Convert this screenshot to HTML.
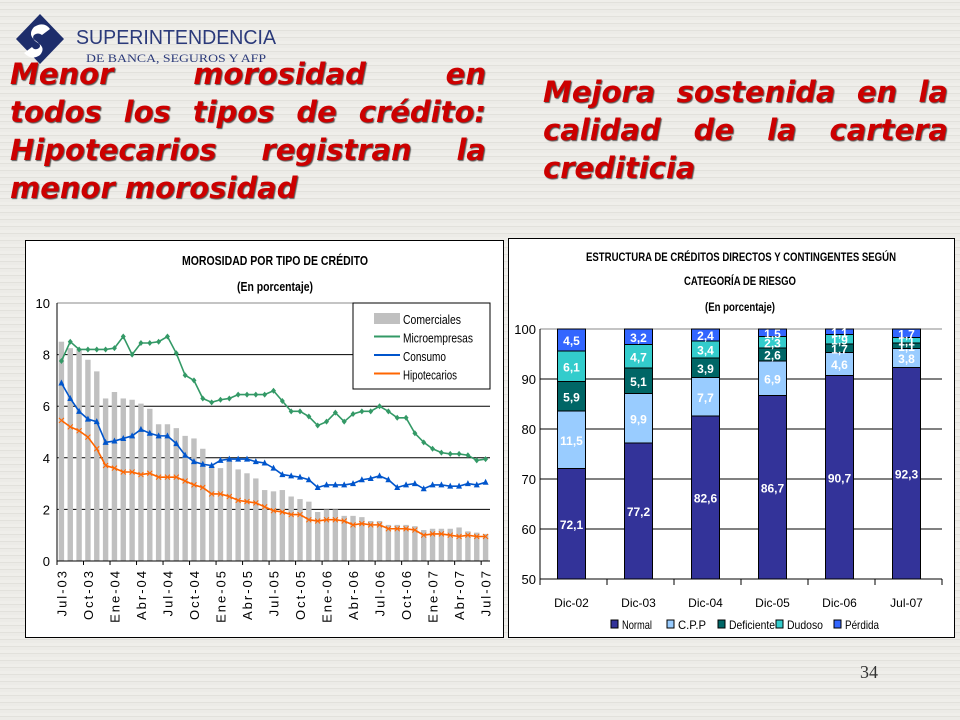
<!DOCTYPE html>
<html><head><meta charset="utf-8"><style>
body{margin:0;width:960px;height:720px;overflow:hidden;background:#e9e8e4;font-family:"Liberation Sans",sans-serif;position:relative}
.bgtex{position:absolute;inset:0;background:repeating-linear-gradient(0deg,#ecebe7 0 3px,#e2e1dc 3px 4px,#efeeea 4px 7px);}
.t{position:absolute;font-family:"DejaVu Sans",sans-serif;font-weight:bold;font-style:italic;color:#cc0000;font-size:29px;line-height:38px;text-shadow:1px 1px 1px #555}
.t div{text-align:justify;text-align-last:justify;white-space:nowrap}
.t div.last{text-align-last:left}
</style></head><body>
<div class="bgtex"></div>
<div style="position:absolute;left:14px;top:12px;width:270px;height:55px">
<svg width="270" height="55"><polygon points="26,2 50,27 26,52 2,27" fill="#1d2d6b"/><path d="M20,15 q10,-6 16,2 l-8,6 q-4,-3 -8,0 q-3,4 4,8 q8,5 2,12 q-8,6 -16,-2 l8,-6 q3,4 7,1 q3,-3 -3,-7 q-9,-6 -2,-14z" fill="#fff"/>
<text x="62" y="32" font-family="Liberation Sans" font-size="20" fill="#2b3a7a" textLength="200" lengthAdjust="spacingAndGlyphs">SUPERINTENDENCIA</text>
<text x="72" y="50" font-family="Liberation Serif" font-size="12" fill="#2b3a7a" textLength="180" lengthAdjust="spacingAndGlyphs">DE BANCA, SEGUROS Y AFP</text></svg></div>
<div class="t" style="left:10px;top:55px;width:476px">
<div>Menor morosidad en</div><div>todos los tipos de crédito:</div><div>Hipotecarios registran la</div><div class="last">menor morosidad</div></div>
<div class="t" style="left:543px;top:73px;width:405px">
<div>Mejora sostenida en la</div><div>calidad de la cartera</div><div class="last">crediticia</div></div>
<div style="position:absolute;left:860px;top:662px;font-family:'Liberation Serif';font-size:18px;color:#333">34</div>

<svg id="c1" style="position:absolute;left:25px;top:240px" width="480" height="400"></svg>
<svg id="c2" style="position:absolute;left:508px;top:238px" width="450" height="400"></svg>
<script>
const months=["Jul-03","Ago-03","Sep-03","Oct-03","Nov-03","Dic-03","Ene-04","Feb-04","Mar-04","Abr-04","May-04","Jun-04","Jul-04","Ago-04","Sep-04","Oct-04","Nov-04","Dic-04","Ene-05","Feb-05","Mar-05","Abr-05","May-05","Jun-05","Jul-05","Ago-05","Sep-05","Oct-05","Nov-05","Dic-05","Ene-06","Feb-06","Mar-06","Abr-06","May-06","Jun-06","Jul-06","Ago-06","Sep-06","Oct-06","Nov-06","Dic-06","Ene-07","Feb-07","Mar-07","Abr-07","May-07","Jun-07","Jul-07"];
const comerciales=[8.5,8.25,8.2,7.8,7.35,6.3,6.55,6.3,6.25,6.1,5.9,5.3,5.3,5.15,4.85,4.75,4.35,3.7,3.6,3.9,3.55,3.4,3.2,2.75,2.7,2.75,2.5,2.4,2.3,1.9,2.0,2.0,1.75,1.75,1.7,1.55,1.55,1.4,1.4,1.4,1.35,1.2,1.25,1.25,1.25,1.3,1.15,1.1,1.05];
const microempresas=[7.75,8.5,8.2,8.2,8.2,8.2,8.25,8.7,8.0,8.45,8.45,8.5,8.7,8.05,7.2,7.0,6.3,6.15,6.25,6.3,6.45,6.45,6.45,6.45,6.6,6.2,5.8,5.8,5.6,5.25,5.4,5.75,5.4,5.7,5.8,5.8,6.0,5.8,5.55,5.55,4.95,4.6,4.35,4.2,4.15,4.15,4.1,3.9,3.95];
const consumo=[6.9,6.3,5.8,5.5,5.4,4.6,4.65,4.75,4.85,5.1,4.95,4.85,4.85,4.55,4.1,3.85,3.75,3.7,3.9,3.95,3.95,3.95,3.85,3.8,3.6,3.35,3.3,3.25,3.15,2.85,2.95,2.95,2.95,3.0,3.15,3.2,3.3,3.15,2.85,2.95,3.0,2.8,2.95,2.95,2.9,2.9,3.0,2.95,3.05];
const hipotecarios=[5.45,5.2,5.05,4.8,4.35,3.7,3.6,3.45,3.45,3.35,3.4,3.25,3.25,3.25,3.1,2.95,2.85,2.6,2.6,2.5,2.35,2.3,2.25,2.1,1.95,1.9,1.8,1.8,1.6,1.55,1.6,1.6,1.55,1.4,1.45,1.4,1.4,1.25,1.25,1.25,1.2,1.0,1.05,1.05,1.0,0.95,1.0,0.95,0.95];
const yTicks1=[0,2,4,6,8,10];

const periods=["Dic-02","Dic-03","Dic-04","Dic-05","Dic-06","Jul-07"];
const normal=[72.1,77.2,82.6,86.7,90.7,92.3];
const cpp=[11.5,9.9,7.7,6.9,4.6,3.8];
const deficiente=[5.9,5.1,3.9,2.6,1.7,1.1];
const dudoso=[6.1,4.7,3.4,2.3,1.9,1.1];
const perdida=[4.5,3.2,2.4,1.5,1.1,1.7];
const yTicks2=[50,60,70,80,90,100];

const NS="http://www.w3.org/2000/svg";
function mk(p,tag,a,txt){const e=document.createElementNS(NS,tag);for(const k in a)e.setAttribute(k,a[k]);if(txt!==undefined)e.textContent=txt;p.appendChild(e);return e;}
const fnt='"Liberation Sans",sans-serif';

// Chart 1
(function(){
const s=document.getElementById('c1');
mk(s,'rect',{x:0.5,y:0.5,width:478,height:397,fill:'#fff',stroke:'#000'});
let t=mk(s,'text',{x:157,y:25,'font-size':13,'font-weight':'bold','font-family':fnt,textLength:186,lengthAdjust:'spacingAndGlyphs'},'MOROSIDAD POR TIPO DE CRÉDITO');

mk(s,'text',{x:212,y:51,'font-size':13,'font-weight':'bold','font-family':fnt,textLength:76,lengthAdjust:'spacingAndGlyphs'},'(En porcentaje)');
const L=32,R=465,T=63,B=321,n=months.length,step=(R-L)/n;
const Y=v=>B-(v/10)*(B-T), X=i=>L+step*(i+0.5);
yTicks1.forEach(v=>{if(v>0){const g=mk(s,'line',{x1:L,x2:R,y1:Y(v),y2:Y(v),stroke:v==10?'#888':'#000','stroke-width':1});}
 const l=mk(s,'text',{x:L-7,y:Y(v)+5,'text-anchor':'end','font-size':13,'font-family':fnt},v);});
comerciales.forEach((v,i)=>{const b=mk(s,'rect',{x:X(i)-2.7,y:Y(v),width:5.4,height:B-Y(v),fill:'#c0c0c0'});});
mk(s,'line',{x1:L,x2:L,y1:T,y2:B,stroke:'#000'});mk(s,'line',{x1:L,x2:R,y1:B,y2:B,stroke:'#000'});
months.forEach((m,i)=>{ if(i%3==0){mk(s,'line',{x1:L+step*i,x2:L+step*i,y1:B,y2:B+4,stroke:'#000'});
 const tl=mk(s,'text',{x:0,y:0,'text-anchor':'end','font-size':13,'font-family':fnt,'letter-spacing':'2',transform:`translate(${X(i)+5},${B+8}) rotate(-90)`},m);}});
function series(d,c,name,mark){const pl=mk(s,'polyline',{points:d.map((v,i)=>X(i)+','+Y(v)).join(' '),fill:'none',stroke:c,'stroke-width':1.6});
 d.forEach((v,i)=>{const x=X(i),y=Y(v);let m;
  if(mark=='d')m=mk(s,'polygon',{points:`${x},${y-3} ${x+2.5},${y} ${x},${y+3} ${x-2.5},${y}`,fill:c});
  else if(mark=='t')m=mk(s,'polygon',{points:`${x},${y-3.5} ${x+3},${y+2.5} ${x-3},${y+2.5}`,fill:c});
  else m=mk(s,'path',{d:`M${x-2.5},${y-2.5}L${x+2.5},${y+2.5}M${x+2.5},${y-2.5}L${x-2.5},${y+2.5}`,stroke:c,'stroke-width':1});
  });}
series(microempresas,'#339966','microempresas','d');
series(consumo,'#0055cc','consumo','t');
series(hipotecarios,'#ff6600','hipotecarios','x');
const lg=mk(s,'g',{});
mk(lg,'rect',{x:328,y:63,width:137,height:86,fill:'#fff',stroke:'#000'});
mk(lg,'rect',{x:349,y:73,width:26,height:11,fill:'#c0c0c0'});
[['Comerciales',null,58],['Microempresas','#339966',70],['Consumo','#0055cc',43],['Hipotecarios','#ff6600',54]].forEach((e,i)=>{const y=82+i*18.5;
 if(e[1])mk(lg,'line',{x1:349,x2:375,y1:y-4,y2:y-4,stroke:e[1],'stroke-width':2});
 const et=mk(lg,'text',{x:378,y:y+2,'font-size':13,'font-family':fnt,textLength:e[2],lengthAdjust:'spacingAndGlyphs'},e[0]);});
})();

// Chart 2
(function(){
const s=document.getElementById('c2');
mk(s,'rect',{x:0.5,y:0.5,width:446,height:399,fill:'#fff',stroke:'#000'});
mk(s,'text',{x:78,y:23,'font-size':12,'font-weight':'bold','font-family':fnt,textLength:310,lengthAdjust:'spacingAndGlyphs'},'ESTRUCTURA DE CRÉDITOS DIRECTOS Y CONTINGENTES SEGÚN');
mk(s,'text',{x:176,y:47,'font-size':12,'font-weight':'bold','font-family':fnt,textLength:112,lengthAdjust:'spacingAndGlyphs'},'CATEGORÍA DE RIESGO');
mk(s,'text',{x:197,y:73,'font-size':12,'font-weight':'bold','font-family':fnt,textLength:70,lengthAdjust:'spacingAndGlyphs'},'(En porcentaje)');
const L=32,R=434,T=91,B=341,n=periods.length,step=(R-L)/n;
const Y=v=>B-((v-50)/50)*(B-T), X=i=>L+step*(i+0.5)-2;
yTicks2.forEach(v=>{mk(s,'line',{x1:L,x2:R,y1:Y(v),y2:Y(v),stroke:v==100?'#888':'#000'});
 const l=mk(s,'text',{x:L-4,y:Y(v)+5,'text-anchor':'end','font-size':13,'font-family':fnt},v);});
mk(s,'line',{x1:L,x2:L,y1:T,y2:B,stroke:'#000'});
for(let i=0;i<=n;i++)mk(s,'line',{x1:L+step*i,x2:L+step*i,y1:B,y2:B+6,stroke:'#000'});
const segs=[[normal,'#333399','normal'],[cpp,'#99ccff','cpp'],[deficiente,'#006666','deficiente'],[dudoso,'#33cccc','dudoso'],[perdida,'#3366ff','perdida']];
periods.forEach((p,i)=>{let base=0;
 segs.forEach(([arr,c,nm],k)=>{const v=arr[i];const lo=base,hi=Math.min(100,base+v);base+=v;
  const y0=Y(Math.max(lo,50)),y1=Y(hi);
  const r=mk(s,'rect',{x:X(i)-14,y:y1,width:28,height:y0-y1,fill:c,stroke:'#000','stroke-width':1});
  const ty=(y0+y1)/2+5;
  const lt=mk(s,'text',{x:X(i),y:ty,'text-anchor':'middle','font-size':12,'font-weight':'bold','font-family':fnt,fill:'#fff'},String(v).replace('.',','));
  });
 const xl=mk(s,'text',{x:X(i),y:B+28,'text-anchor':'middle','font-size':12,'font-family':fnt},p);});
mk(s,'line',{x1:L,x2:R,y1:B,y2:B,stroke:'#000'});
[['Normal',103,30],['C.P.P',159,28],['Deficiente',210,46],['Dudoso',268,36],['Pérdida',326,34]].forEach((e,i)=>{
 const lg=mk(s,'g',{});
 mk(lg,'rect',{x:e[1],y:382,width:7,height:8,fill:segs[i][1],stroke:'#000'});
 mk(lg,'text',{x:e[1]+11,y:391,'font-size':12,'font-family':fnt,textLength:e[2],lengthAdjust:'spacingAndGlyphs'},e[0]);});
})();
</script>
</body></html>
